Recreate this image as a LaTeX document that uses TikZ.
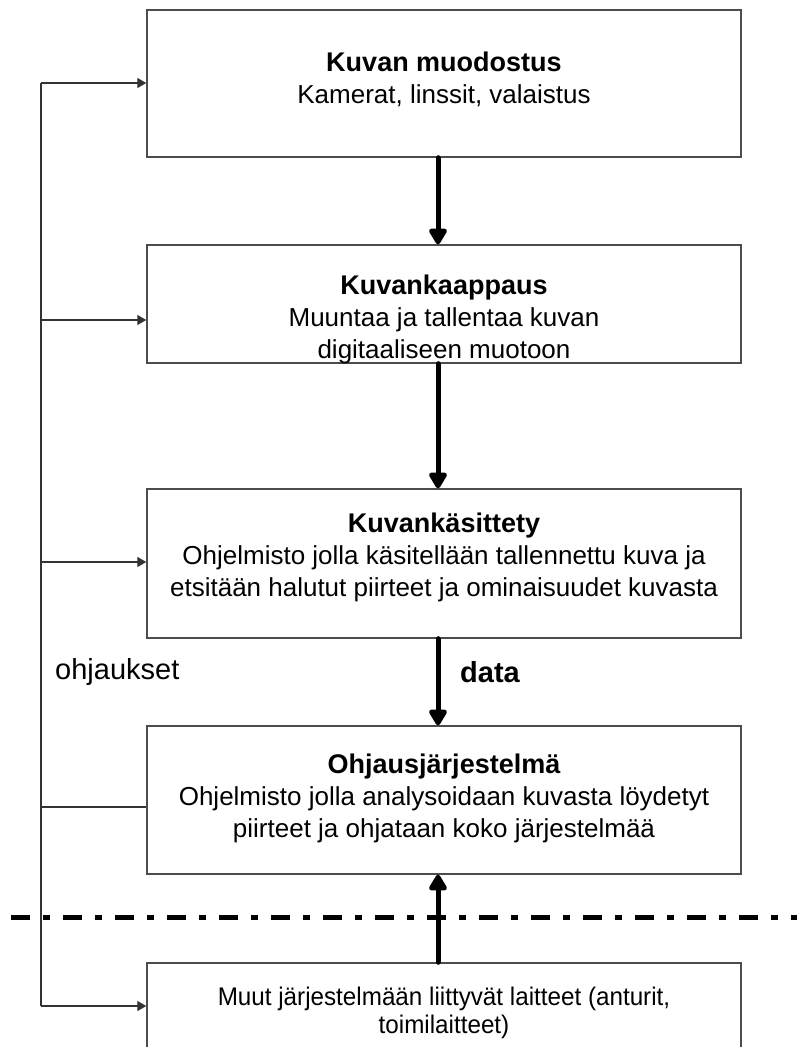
\documentclass[tikz,border=0pt]{standalone}
\usepackage{fontspec}
\setmainfont{Liberation Sans}
\newfontfamily\narrowfont[FakeStretch=0.95]{Liberation Sans}
\usetikzlibrary{arrows.meta}
\newcommand{\ttl}[1]{{\fontsize{27}{32}\selectfont\bfseries #1}}
\tikzset{
  box/.style={draw=black!70, line width=1.4pt, minimum width=594pt, inner sep=0pt},
  txt/.style={align=center, font=\fontsize{26}{32}\selectfont, inner sep=0pt},
  thin/.style={draw=black!80, line width=1.3pt},
  thinarrow/.style={thin, -{Triangle[length=9pt,width=10pt]}},
  bigarrow/.style={line width=5pt, line cap=round, -{Triangle[length=18pt,width=20pt,round]}},
}
\begin{document}
\begin{tikzpicture}[x=1pt,y=-1pt]
\useasboundingbox (0,0) rectangle (796,1047);
% boxes
\node[box, minimum height=147pt] (b1) at (444,83.5) {};
\node[box, minimum height=118pt] (b2) at (444,304) {};
\node[box, minimum height=149pt] (b3) at (444,563.5) {};
\node[box, minimum height=148pt] (b4) at (444,800) {};
\node[box, minimum height=130pt] (b5) at (444,1028) {};
% texts
\node[txt] (t1) at (444,79) {\ttl{Kuvan muodostus}\\Kamerat, linssit, valaistus};
\node[txt] (t2) at (444,319) {\ttl{Kuvankaappaus}\\Muuntaa ja tallentaa kuvan\\digitaaliseen muotoon};
\node[txt] (t3) at (444,557) {\ttl{Kuvankäsittety}\\Ohjelmisto jolla käsitellään tallennettu kuva ja\\etsitään halutut piirteet ja ominaisuudet kuvasta};
\node[txt] (t4) at (444,798) {\ttl{Ohjausjärjestelmä}\\Ohjelmisto jolla analysoidaan kuvasta löydetyt\\piirteet ja ohjataan koko järjestelmää};
\node[txt, font=\fontsize{25.5}{28}\narrowfont] (t5) at (444,1013) {Muut järjestelmään liittyvät laitteet (anturit,\\toimilaitteet)};
\node[txt, anchor=west, font=\fontsize{29}{32}\selectfont] (oh) at (55,672) {ohjaukset};
\node[txt, anchor=west, font=\fontsize{29}{32}\selectfont\bfseries] (da) at (460,672) {data};
% thick arrows
\draw[bigarrow] (b1.south -| 438,0) -- (b2.north -| 438,0);
\draw[bigarrow] (b2.south -| 438,0) -- (b3.north -| 438,0);
\draw[bigarrow] (b3.south -| 438,0) -- (b4.north -| 438,0);
\draw[bigarrow] (b5.north -| 438,0) -- (b4.south -| 438,0);
% control lines
\coordinate (c1) at (41,83);
\coordinate (c2) at (41,320);
\coordinate (c3) at (41,562);
\coordinate (c4) at (41,807);
\coordinate (c5) at (41,1006);
\draw[thin] (c1) -- (c5);
\draw[thinarrow] (c1) -- (c1 -| b1.west);
\draw[thinarrow] (c2) -- (c2 -| b2.west);
\draw[thinarrow] (c3) -- (c3 -| b3.west);
\draw[thin] (c4) -- (c4 -| b4.west);
\draw[thinarrow] (c5) -- (c5 -| b5.west);
% dash-dot separator
\coordinate (d1) at (11,917);
\coordinate (d2) at (800,917);
\draw[line width=5pt, dash pattern=on 19pt off 13pt on 7pt off 13pt] (d1) -- (d2);
\end{tikzpicture}
\end{document}
